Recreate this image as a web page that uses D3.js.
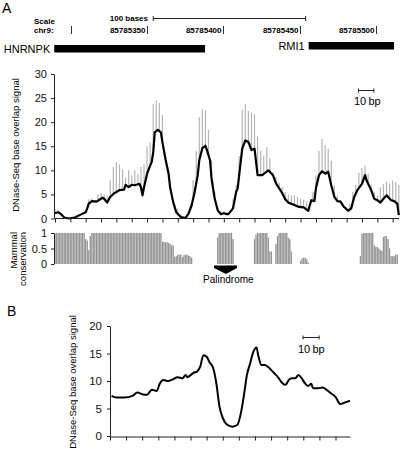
<!DOCTYPE html>
<html><head><meta charset="utf-8">
<script src="https://d3js.org/d3.v7.min.js"></script>
<style>body{margin:0;background:#fff}svg{display:block;font-family:"Liberation Sans",Arial,sans-serif}</style>
</head><body><svg id="c" width="400" height="454"></svg>
<script>
// ---- Header (genome browser) ----
const genomicTicks = [85785300, 85785350, 85785400, 85785450, 85785500];
const genomicLabels = ["", "85785350", "85785400", "85785450", "85785500"];
const genes = ["HNRNPK", "RMI1"];
const geneStart = [85785289, 85785456];
const geneEnd = [85785388, 85785512];

// ---- Panel A: DNase-seq signal (bp positions within the window) ----
const rawStep = 2;
const rawSignal = [2.0,1.8,1.0,0.4,0.2,0.2,0.4,0.6,0.9,1.3,1.6,4.0,4.2,3.8,5.0,5.3,5.0,4.6,8.0,10.7,
  11.7,11.2,10.2,8.5,10.0,9.0,10.0,9.3,10.7,11.2,15.0,15.8,23.7,24.5,24.0,21.5,12.6,7.8,5.1,3.0,
  2.0,0.6,0.4,0.8,2.5,8.0,14.0,21.0,22.7,22.5,18.4,12.0,5.5,2.5,1.5,1.4,1.3,1.5,4.0,7.0,
  13.0,22.6,23.7,22.3,22.0,21.6,17.0,14.0,13.1,14.8,12.5,9.6,8.6,7.5,6.5,5.5,5.0,4.8,4.8,4.5,
  4.1,3.9,3.6,3.5,5.5,9.0,14.0,16.5,15.2,14.5,12.0,6.9,4.8,3.8,2.8,2.4,3.0,5.5,7.0,9.5,
  10.5,11.0,9.3,7.0,5.5,4.8,6.5,7.2,7.6,7.2,7.9,7.6,6.9];
const smoothBp = [0,2,4,6,9,13,16,20,21,22,24,27,29,31,32,34,36,38,40,42,45,46,48,50,52,55,56,57,58,60,
  62,63,64,65,67,69,70,72,74,75,77,79,82,85,87,89,91,93,94,96,98,99,101,102,104,106,108,110,112,113,
  116,118,119,121,122,124,126,128,130,132,135,137,139,142,144,146,148,150,152,156,159,162,165,167,169,170,172,174,176,178,
  180,182,184,186,188,191,193,195,197,200,202,203,206,208,210,212,214,216,219,221,223,224];
const smoothVal = [1.1,1.3,0.9,0.2,0,0.2,0.7,1.3,2.1,3.1,3.6,3.5,3.9,4.3,4.1,3.3,4.5,5.1,5.5,5.9,6.0,7.0,6.5,7.0,6.9,7.2,6.5,4.8,6.5,9.3,
  11.0,11.7,13.7,17.9,18.4,17.9,15.8,12.3,9.3,6.5,3.4,1.3,0.3,0.1,1.0,2.7,5.5,9.0,12.1,14.6,15.1,14.2,12.1,8.3,4.2,1.7,0.9,1.1,0.9,0.9,
  2.1,5.5,6.2,11.8,14.5,16.2,15.9,14.2,14.5,9.0,9.0,9.5,10.0,9.0,7.3,6.3,5.3,4.0,3.3,2.8,2.4,2.3,1.6,3.8,3.6,6.3,9.0,9.8,9.3,9.7,
  6.9,4.5,3.6,3.5,2.5,1.6,2.1,4.5,5.9,7.2,9.0,7.9,5.9,4.1,3.8,3.3,4.1,4.8,3.8,3.6,3.1,0.7];
const yTicksA = [0,5,10,15,20,25,30];

// ---- Mammal conservation (one value per bp, 0..223) ----
const conservation = [1,1,1,1,1,1,1,1,1,1,1,1,1,1,1,1,1,1,1,1,
  0.8,0.75,0.45,0.9,1,
  1,1,1,1,1,1,1,1,1,1,1,1,1,1,1,1,1,1,1,1,1,1,1,1,1,1,1,1,1,1,1,1,1,1,1,1,1,1,1,1,1,1,1,1,1,
  0.72,0.72,0.7,0.7,0.68,0.65,0.6,0.6,
  0.23,0.25,0.3,0.3,0.3,0.22,0.28,0.3,0.3,0.27,0.25,0.2,
  0,0,0,0,0,0,0,0,0,0,0,0,0,0,0,0,
  0.85,1,1,1,1,1,1,1,1,1,0.8,
  0,0,0,0,0,0,0,0,0,0,0,0,0,
  0.8,0.95,1,1,1,1,1,1,1,0.85,0.4,0.4,
  0,0,
  0.65,0.9,1,1,1,1,1,1,0.85,0.8,0.4,
  0,0,0,0,0,
  0.1,0.18,0.2,0.2,0.15,0.05,
  0,0,0,0,0,0,0,0,0,0,0,0,0,0,0,0,0,0,0,0,0,0,0,0,0,0,0,0,0,0,0,0,0,
  0.25,0.97,1,1,1,1,1,1,1,0.6,0.55,0.55,0.5,0.45,0.42,0.87,0.9,0.9,0.8,0.5,0.25,0.25,0.25,0.3,0.3];
const yTicksC = [0, 0.5, 1];
const yTickLabelsC = ["0", "0.5", "1"];

// ---- Panel B: aggregate profile ----
const profileBp = [1,4,9,14,17,20,23,26,29,31,33,36,39,42,45,47,48,52,54,56,58,60,62,64,66,68,70,73,76,79,
  81,83,85,87,89,91,92,94,96,98,101,102,104,107,109,111,113,115,117,119,121,123,125,126,129,132,134,137,140,143,145,149];
const profileVal = [7.3,7.0,7.0,7.3,7.9,7.6,7.5,8.4,8.2,9.6,10.2,10.0,10.3,10.7,10.5,11.1,10.7,11.5,11.7,12.6,14.7,14.4,13.3,12.4,9.6,5.3,3.3,2.0,1.7,2.0,
  3.8,7.1,11.1,13.2,15.3,16.1,14.7,12.9,12.9,12.6,11.7,11.4,10.8,9.6,9.3,10.2,10.5,10.5,11.1,10.5,9.6,9.1,9.5,8.7,8.7,8.8,8.5,7.8,7.1,5.8,6.0,6.4];
const yTicksB = [0,5,10,15,20];

const svg = d3.select("#c");
const font = "Liberation Sans, Arial, sans-serif";

function styleAxis(g, fs){
  g.selectAll("path").attr("stroke","#222");
  g.selectAll("line").attr("stroke","#222");
  g.selectAll("text").attr("font-size", fs).attr("fill","#111").attr("font-family", font);
}

// ===== Panel letters =====
svg.append("text").attr("x",2).attr("y",13).attr("font-size",14).text("A");
svg.append("text").attr("x",7).attr("y",316).attr("font-size",14).text("B");

// ===== Header =====
const gx = d3.scaleLinear().domain([85785300, 85785500]).range([71, 375.7]);
const hdr = svg.append("g").attr("font-weight","bold").attr("font-size",8);
hdr.append("text").attr("x",34).attr("y",24).text("Scale");
hdr.append("text").attr("x",34).attr("y",33).text("chr9:");
hdr.append("text").attr("x",148).attr("y",21).attr("text-anchor","end").text("100 bases");
const sb0 = gx(85785354), sb1 = gx(85785454);
hdr.append("line").attr("x1",sb0).attr("x2",sb1).attr("y1",18.5).attr("y2",18.5).attr("stroke","#222");
[sb0,sb1].forEach(x=>hdr.append("line").attr("x1",x).attr("x2",x).attr("y1",16).attr("y2",21).attr("stroke","#222"));
genomicTicks.forEach((t,i)=>{
  const x = Math.round(gx(t))+0.5;
  hdr.append("line").attr("x1",x).attr("x2",x).attr("y1",26).attr("y2",34).attr("stroke","#333");
  if (genomicLabels[i]) hdr.append("text").attr("x",x-2).attr("y",33).attr("text-anchor","end").text(genomicLabels[i]);
});
// genes
const geneY = [45, 42];
genes.forEach((g,i)=>{
  const x0 = gx(geneStart[i]), x1 = gx(geneEnd[i]);
  svg.append("rect").attr("x",x0).attr("y",geneY[i]).attr("width",x1-x0).attr("height",7.5).attr("fill","#000");
  svg.append("text").attr("x",x0-4).attr("y",geneY[i]+8).attr("text-anchor","end").attr("font-size",11).text(g);
});

// ===== Panel A =====
const xA = d3.scaleLinear().domain([0,224]).range([55, 398.8]);
const yA = d3.scaleLinear().domain([0,30]).range([218.5, 74]);
const gA = svg.append("g");
gA.selectAll("line.raw").data(rawSignal).join("line").attr("class","raw")
  .attr("x1",(d,i)=>xA(i*rawStep)).attr("x2",(d,i)=>xA(i*rawStep))
  .attr("y1",yA(0)).attr("y2",d=>yA(d)).attr("stroke","#b4b4b4").attr("stroke-width",1.2);
const smooth = smoothBp.map((b,i)=>[b, smoothVal[i]]);
gA.append("path").datum(smooth).attr("fill","#fff")
  .attr("d", d3.area().x(d=>xA(d[0])).y0(yA(0)).y1(d=>yA(d[1])));
gA.append("path").datum(smooth).attr("fill","none").attr("stroke","#000").attr("stroke-width",2.2)
  .attr("stroke-linejoin","round").attr("d", d3.line().x(d=>xA(d[0])).y(d=>yA(d[1])));
const axYA = gA.append("g").attr("transform","translate(54,0)")
  .call(d3.axisLeft(yA).tickValues(yTicksA).tickSize(3).tickSizeOuter(0).tickPadding(4));
styleAxis(axYA, 11);
const axXA = gA.append("g").attr("transform","translate(0,218.5)")
  .call(d3.axisBottom(xA).tickValues(d3.range(0,221,10)).tickSize(4).tickSizeOuter(0).tickFormat(""));
styleAxis(axXA, 11);
axXA.select("path").attr("d","M54,0H399");
svg.append("text").attr("transform","translate(19,145) rotate(-90)").attr("text-anchor","middle")
  .attr("font-size",9.5).text("DNase-Seq base overlap signal");
// 10 bp bar A
function scaleBar(x, y, w, tx, ty){
  svg.append("line").attr("x1",x).attr("x2",x+w).attr("y1",y).attr("y2",y).attr("stroke","#222");
  [x, x+w].forEach(v=>svg.append("line").attr("x1",v).attr("x2",v).attr("y1",y-2).attr("y2",y+2).attr("stroke","#222"));
  svg.append("text").attr("x",tx).attr("y",ty).attr("font-size",11).text("10\u2009bp");
}
scaleBar(358.5, 90.5, xA(10)-xA(0), 354, 105);

// ===== Conservation =====
const yC = d3.scaleLinear().domain([0,1]).range([264, 233]);
const gC = svg.append("g");
const bw = xA(1)-xA(0);
conservation.forEach((v,i)=>{
  if (v<=0) return;
  gC.append("rect").attr("x",xA(i)-bw/2).attr("y",yC(v)).attr("width",bw).attr("height",yC(0)-yC(v)).attr("fill","#c4c4c4");
  gC.append("line").attr("x1",xA(i)).attr("x2",xA(i)).attr("y1",yC(v)).attr("y2",yC(0)).attr("stroke","#7c7c7c").attr("stroke-width",0.7);
});
const axC = gC.append("g").attr("transform","translate(54,0)")
  .call(d3.axisLeft(yC).tickValues(yTicksC).tickSize(3).tickSizeOuter(0).tickPadding(4).tickFormat((d,i)=>yTickLabelsC[i]));
styleAxis(axC, 11);
svg.append("text").attr("transform","translate(17,232) rotate(-90)").attr("text-anchor","end").attr("font-size",9.5).text("Mammal");
svg.append("text").attr("transform","translate(26,232) rotate(-90)").attr("text-anchor","end").attr("font-size",9.5).text("conservation");
// palindrome arrow
svg.append("polygon").attr("points","214,265.5 237,265.5 237,268 226,274 214,268").attr("fill","#000");
svg.append("text").attr("x",203).attr("y",283).attr("font-size",10).text("Palindrome");

// ===== Panel B =====
const xB = d3.scaleLinear().domain([0,149]).range([110, 350]);
const yB = d3.scaleLinear().domain([0,20]).range([436, 326]);
const gB = svg.append("g");
const prof = profileBp.map((b,i)=>[b, profileVal[i]]);
gB.append("path").datum(prof).attr("fill","none").attr("stroke","#000").attr("stroke-width",2)
  .attr("stroke-linejoin","round").attr("d", d3.line().curve(d3.curveMonotoneX).x(d=>xB(d[0])).y(d=>yB(d[1])));
const axYB = gB.append("g").attr("transform","translate(110,0)")
  .call(d3.axisLeft(yB).tickValues(yTicksB).tickSize(3).tickSizeOuter(0).tickPadding(5));
styleAxis(axYB, 11.5);
const axXB = gB.append("g").attr("transform","translate(0,436.5)")
  .call(d3.axisBottom(xB).tickValues(d3.range(0,141,10)).tickSize(4).tickSizeOuter(0).tickFormat(""));
styleAxis(axXB, 11);
svg.append("text").attr("transform","translate(76,382) rotate(-90)").attr("text-anchor","middle")
  .attr("font-size",9.5).text("DNase-Seq base overlap signal");
scaleBar(303, 337.5, xB(10)-xB(0), 298, 353);
</script></body></html>
